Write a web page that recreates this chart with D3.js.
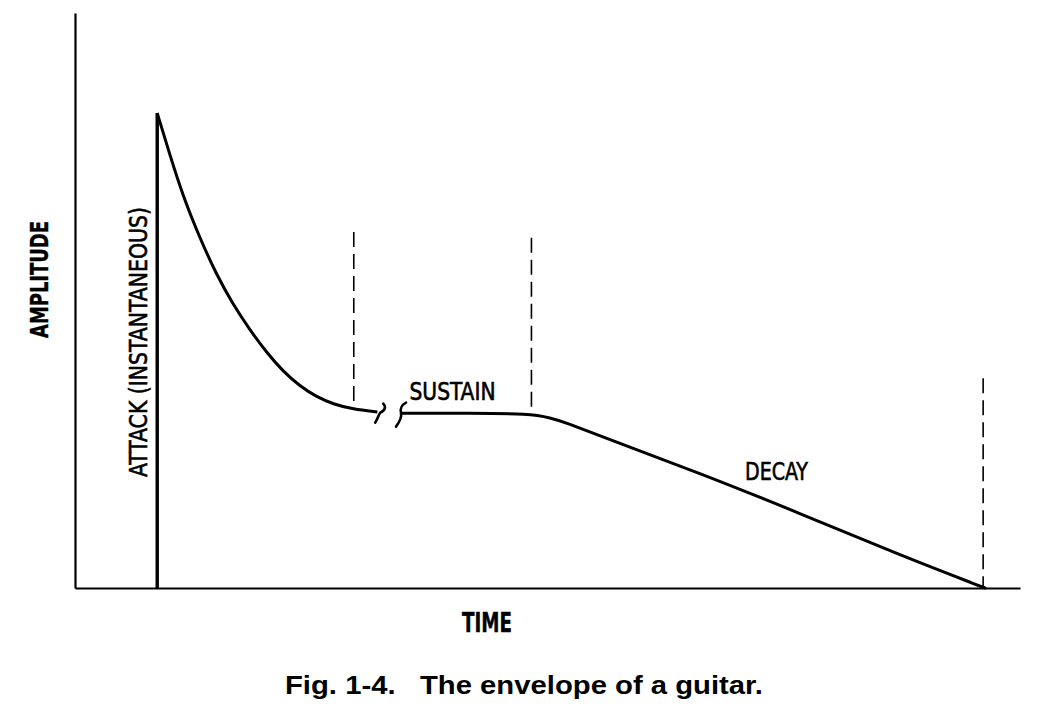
<!DOCTYPE html>
<html>
<head>
<meta charset="utf-8">
<script src="https://cdn.jsdelivr.net/npm/d3@7"></script>
<style>
  html, body { margin: 0; padding: 0; background: #fff; }
  svg { display: block; }
  .narrow { font-family: "Liberation Sans Narrow", "DejaVu Sans Condensed", "Liberation Sans", sans-serif; }
</style>
</head>
<body>
<svg id="chart" width="1041" height="708"></svg>
<script>
// ---- data (arbitrary units: time 0..100, amplitude 0..100) ----
const attackTime = [8.7, 10.1, 11.4, 13.2, 15.0, 16.7, 18.5, 20.3, 22.0, 23.8, 25.6, 27.3, 29.4, 32.0];
const attackAmp  = [82.6, 75.0, 68.3, 60.9, 54.4, 49.4, 44.9, 40.9, 37.7, 35.1, 33.2, 32.0, 31.1, 30.6];

const sustainTime = [34.7, 41.8, 48.1, 50.3, 52.1, 55.6, 66.1, 76.7, 87.3, 96.3];
const sustainAmp  = [30.4, 30.4, 30.3, 29.6, 28.7, 26.4, 20.0, 13.0, 5.7, 0.0];

const breakTimes = [32.3, 34.5];
const breakAmp = 30.5;

const markerTime = [29.5, 48.3, 96.1];
const markerTop  = [61.9, 60.9, 36.5];
const markerBottom = [32.0, 30.3, 0.0];

const labels = ["AMPLITUDE", "TIME", "ATTACK (INSTANTANEOUS)", "SUSTAIN", "DECAY"];
const caption = "Fig. 1-4.   The envelope of a guitar.";

// ---- scales ----
const svg = d3.select("#chart");
svg.append("rect").attr("width", 1041).attr("height", 708).attr("fill", "#fff");

const x = d3.scaleLinear().domain([0, 100]).range([75, 1020]);
const y = d3.scaleLinear().domain([0, 100]).range([588, 13]);

// axes (no ticks)
svg.append("g").attr("transform", `translate(${x(0)},0)`)
  .call(d3.axisLeft(y).tickValues([]).tickSizeOuter(0))
  .select(".domain").attr("stroke", "#000").attr("stroke-width", 2.2);
svg.append("g").attr("transform", `translate(0,${y(0)})`)
  .call(d3.axisBottom(x).tickValues([]).tickSizeOuter(0))
  .select(".domain").attr("stroke", "#000").attr("stroke-width", 2.2);

// attack: vertical instantaneous rise
svg.append("line")
  .attr("x1", x(attackTime[0])).attr("x2", x(attackTime[0]))
  .attr("y1", y(0)).attr("y2", y(attackAmp[0]))
  .attr("stroke", "#000").attr("stroke-width", 3.4);

const line = d3.line().x(d => x(d[0])).y(d => y(d[1])).curve(d3.curveBasis);

svg.append("path")
  .datum(attackTime.map((t, i) => [t, attackAmp[i]]))
  .attr("d", line)
  .attr("fill", "none").attr("stroke", "#000").attr("stroke-width", 3)
  .attr("stroke-linejoin", "round");

svg.append("path")
  .datum(sustainTime.map((t, i) => [t, sustainAmp[i]]))
  .attr("d", line)
  .attr("fill", "none").attr("stroke", "#000").attr("stroke-width", 3)
  .attr("stroke-linecap", "round");

// break marks
const breakShapes = [
  "M3,-9 C6,-6 5,-2 0,0 C-2,3 -3,7 -5,10",
  "M5,-10 C1,-8 -1,-4 0,0 C1,5 -2,10 -5,14"
];
svg.selectAll("path.brk").data(breakTimes).join("path")
  .attr("class", "brk")
  .attr("transform", d => `translate(${x(d)},${y(breakAmp)})`)
  .attr("d", (d, i) => breakShapes[i])
  .attr("fill", "none").attr("stroke", "#000").attr("stroke-width", 2.6)
  .attr("stroke-linecap", "round");

// dashed markers
svg.selectAll("line.marker").data(markerTime).join("line")
  .attr("class", "marker")
  .attr("x1", d => x(d)).attr("x2", d => x(d))
  .attr("y1", (d, i) => y(markerTop[i])).attr("y2", (d, i) => y(markerBottom[i]))
  .attr("stroke", "#000").attr("stroke-width", 1.6)
  .attr("stroke-dasharray", "15,7");

// labels
svg.append("text").attr("class", "narrow")
  .attr("transform", `translate(48,${(221 + 338) / 2}) rotate(-90)`)
  .attr("text-anchor", "middle")
  .attr("font-size", 25).attr("font-weight", "bold")
  .attr("stroke", "#000").attr("stroke-width", 0.4)
  .attr("textLength", 117).attr("lengthAdjust", "spacingAndGlyphs")
  .text(labels[0]);

svg.append("text").attr("class", "narrow")
  .attr("x", 487).attr("y", 632)
  .attr("text-anchor", "middle")
  .attr("font-size", 26).attr("font-weight", "bold")
  .attr("stroke", "#000").attr("stroke-width", 0.4)
  .attr("textLength", 50).attr("lengthAdjust", "spacingAndGlyphs")
  .text(labels[1]);

const regular = [
  { text: labels[2], tf: `translate(147,${(207 + 477) / 2}) rotate(-90)`, anchor: "middle", len: 270 },
  { text: labels[3], tf: `translate(${x(35.4)},${y(32.7)})`, anchor: "start", len: 86 },
  { text: labels[4], tf: `translate(${x(70.9)},${y(18.8)})`, anchor: "start", len: 63 }
];
svg.selectAll("text.reg").data(regular).join("text")
  .attr("class", "reg narrow")
  .attr("transform", d => d.tf)
  .attr("text-anchor", d => d.anchor)
  .attr("font-size", 25)
  .attr("stroke", "#000").attr("stroke-width", 0.6)
  .attr("textLength", d => d.len).attr("lengthAdjust", "spacingAndGlyphs")
  .text(d => d.text);

svg.append("text")
  .attr("x", 285).attr("y", 694)
  .attr("font-family", "'Liberation Sans', Arial, sans-serif")
  .attr("font-size", 25).attr("font-weight", "bold")
  .attr("textLength", 478).attr("lengthAdjust", "spacingAndGlyphs")
  .attr("xml:space", "preserve")
  .style("white-space", "pre")
  .text(caption);
</script>
</body>
</html>
